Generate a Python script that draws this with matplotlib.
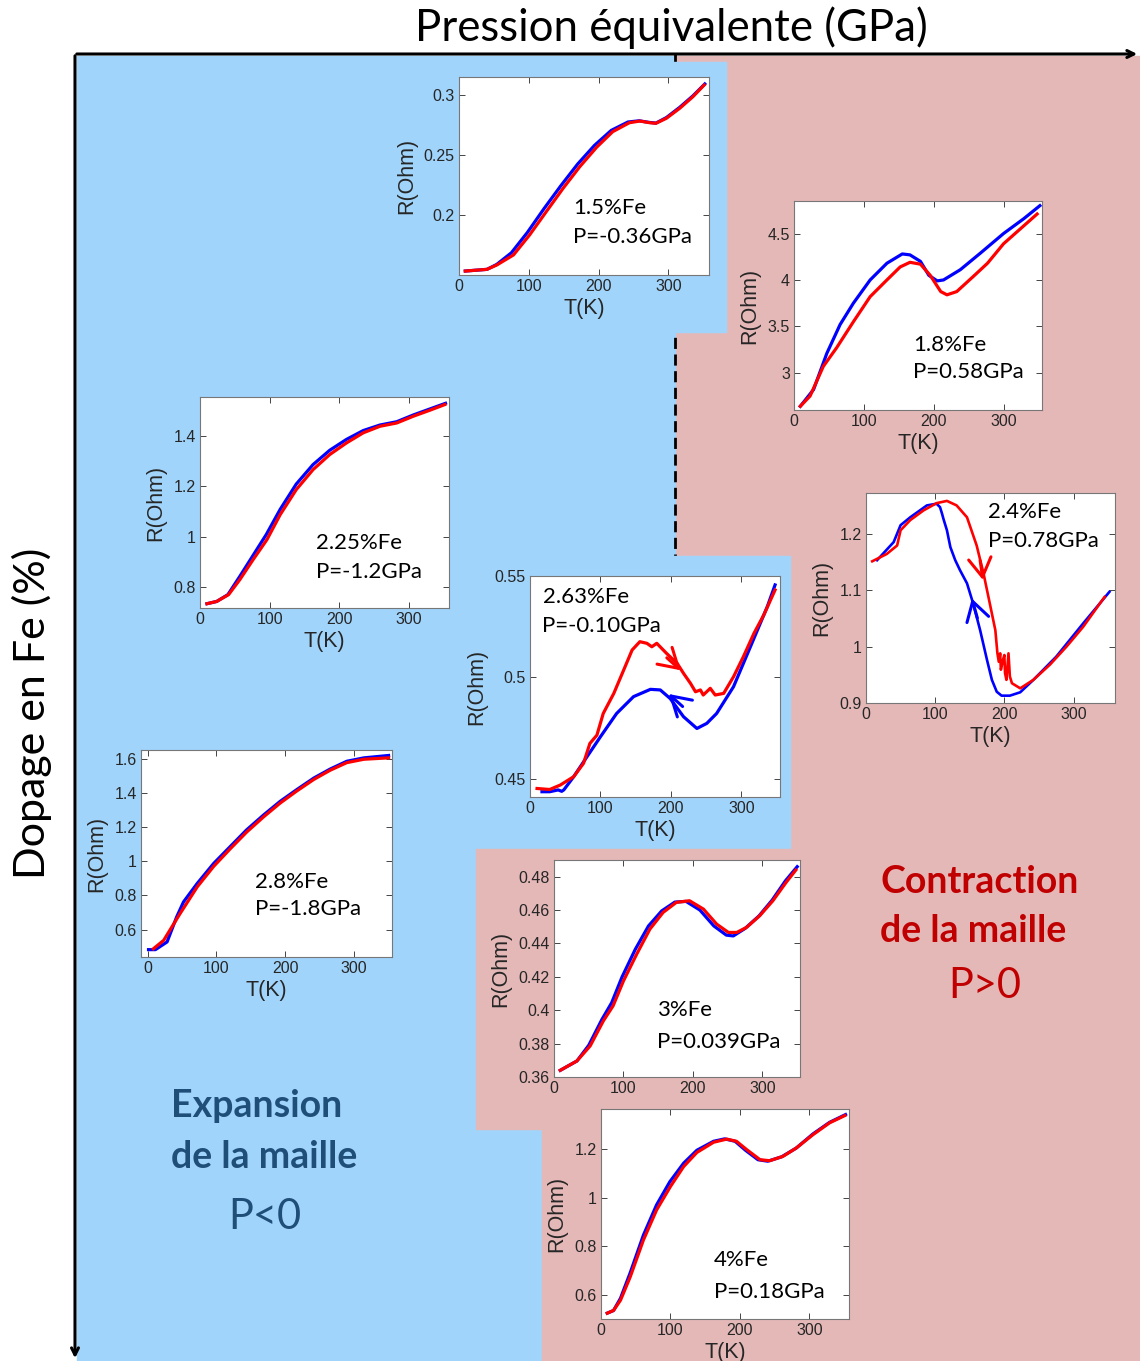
import matplotlib.pyplot as plt
from matplotlib.patches import Rectangle
from matplotlib.ticker import FixedLocator, FuncFormatter

W, H = 1140, 1361

# ---- data: T (K) and R (Ohm), blue = cooling, red = warming ----
# 1.5% Fe, P=-0.36 GPa
t15_b = [9, 40, 54, 75, 98, 122, 146, 170, 194, 218, 242, 258, 272, 282, 297, 316, 335, 352]
r15_b = [0.1533, 0.1547, 0.1588, 0.1685, 0.1855, 0.2055, 0.2245, 0.2425, 0.2580, 0.2705, 0.2775, 0.2785, 0.2772, 0.2766, 0.2812, 0.2897, 0.2993, 0.3092]
t15_r = [9, 40, 54, 78, 101, 125, 149, 173, 197, 220, 244, 259, 273, 282, 297, 316, 335, 351]
r15_r = [0.1533, 0.1547, 0.1583, 0.1667, 0.1833, 0.2028, 0.2222, 0.2403, 0.2564, 0.2694, 0.2769, 0.2783, 0.2769, 0.2764, 0.2806, 0.2889, 0.2986, 0.3083]

# 1.8% Fe, P=0.58 GPa
t18_b = [9, 28, 47, 66, 85, 109, 133, 155, 166, 181, 193, 205, 214, 238, 267, 300, 329, 352]
r18_b = [2.64, 2.82, 3.21, 3.52, 3.75, 4.00, 4.18, 4.28, 4.27, 4.20, 4.05, 3.99, 4.00, 4.11, 4.29, 4.50, 4.66, 4.80]
t18_r = [9, 23, 42, 61, 85, 109, 133, 152, 166, 181, 195, 210, 219, 233, 257, 277, 300, 324, 348]
r18_r = [2.64, 2.75, 3.07, 3.27, 3.55, 3.82, 4.00, 4.14, 4.19, 4.17, 4.05, 3.875, 3.84, 3.875, 4.04, 4.18, 4.39, 4.55, 4.71]

# 2.4% Fe, P=0.78 GPa
t24_b = [16, 40, 50, 64, 88, 102, 107, 110, 112, 117, 122, 129, 136, 146, 155, 165, 175, 182, 189, 196, 208, 223, 242, 275, 314, 352]
r24_b = [1.153, 1.185, 1.215, 1.229, 1.250, 1.253, 1.247, 1.235, 1.226, 1.206, 1.176, 1.153, 1.135, 1.112, 1.076, 1.029, 0.976, 0.941, 0.920, 0.913, 0.913, 0.919, 0.941, 0.982, 1.041, 1.097]
t24_r = [9, 30, 45, 50, 64, 83, 102, 117, 131, 146, 160, 170, 177, 187, 190, 192, 194, 195, 198, 200, 201, 203, 206, 208, 211, 215, 223, 242, 266, 290, 314, 345]
r24_r = [1.151, 1.164, 1.179, 1.206, 1.224, 1.241, 1.254, 1.258, 1.250, 1.229, 1.179, 1.129, 1.088, 1.029, 0.988, 0.973, 0.988, 0.959, 0.976, 0.985, 0.953, 0.941, 0.988, 0.947, 0.935, 0.932, 0.926, 0.941, 0.968, 1.000, 1.035, 1.088]

# 2.63% Fe, P=-0.10 GPa
t263_b = [17, 28, 40, 45, 48, 62, 81, 100, 123, 147, 171, 185, 199, 218, 237, 251, 265, 289, 313, 337, 348]
r263_b = [0.4436, 0.4436, 0.4445, 0.4438, 0.4445, 0.4510, 0.4609, 0.4707, 0.4822, 0.4905, 0.4941, 0.4938, 0.4896, 0.4806, 0.4748, 0.4773, 0.4822, 0.4954, 0.5151, 0.5349, 0.5456]
t263_r = [10, 28, 43, 62, 76, 85, 95, 104, 119, 133, 145, 156, 166, 173, 180, 194, 209, 218, 228, 235, 242, 246, 256, 263, 275, 289, 303, 318, 332, 348]
r263_r = [0.4452, 0.4447, 0.4469, 0.4510, 0.4576, 0.4674, 0.4715, 0.4822, 0.4921, 0.5036, 0.5135, 0.5176, 0.5168, 0.5151, 0.5168, 0.5118, 0.5069, 0.5020, 0.4970, 0.4929, 0.4938, 0.4913, 0.4946, 0.4913, 0.4921, 0.5003, 0.5102, 0.5217, 0.5308, 0.5431]

# 3% Fe, P=0.039 GPa
t3_b = [9, 33, 50, 69, 83, 98, 117, 136, 155, 174, 190, 210, 230, 248, 258, 275, 295, 314, 333, 350]
r3_b = [0.3640, 0.3696, 0.3790, 0.3945, 0.4045, 0.4200, 0.4365, 0.4505, 0.4595, 0.4648, 0.4652, 0.4600, 0.4505, 0.4450, 0.4445, 0.4490, 0.4565, 0.4660, 0.4775, 0.4860]
t3_r = [9, 33, 52, 71, 85, 100, 119, 138, 157, 176, 195, 215, 234, 251, 263, 277, 296, 315, 334, 348]
r3_r = [0.3640, 0.3696, 0.3786, 0.3936, 0.4026, 0.4176, 0.4336, 0.4486, 0.4586, 0.4646, 0.4656, 0.4606, 0.4516, 0.4466, 0.4466, 0.4496, 0.4566, 0.4656, 0.4766, 0.4840]

# 4% Fe, P=0.18 GPa
t4_b = [9, 18, 28, 42, 61, 80, 99, 119, 138, 162, 178, 193, 208, 226, 240, 260, 281, 305, 329, 352]
r4_b = [0.524, 0.535, 0.585, 0.690, 0.845, 0.970, 1.065, 1.142, 1.195, 1.232, 1.242, 1.232, 1.195, 1.156, 1.150, 1.168, 1.204, 1.262, 1.310, 1.342]
t4_r = [9, 18, 28, 42, 61, 80, 100, 119, 138, 162, 181, 195, 210, 229, 243, 262, 281, 305, 329, 351]
r4_r = [0.524, 0.535, 0.577, 0.673, 0.825, 0.949, 1.046, 1.128, 1.186, 1.228, 1.241, 1.232, 1.197, 1.156, 1.152, 1.170, 1.204, 1.259, 1.308, 1.338]

# 2.25% Fe, P=-1.2 GPa
t225_b = [10, 24, 40, 57, 76, 95, 115, 138, 162, 186, 210, 234, 258, 282, 306, 329, 352]
r225_b = [0.734, 0.743, 0.770, 0.842, 0.925, 1.008, 1.108, 1.208, 1.285, 1.342, 1.385, 1.420, 1.442, 1.455, 1.482, 1.505, 1.528]
t225_r = [10, 24, 41, 57, 76, 96, 115, 138, 162, 186, 210, 234, 258, 282, 306, 329, 351]
r225_r = [0.734, 0.743, 0.770, 0.829, 0.908, 0.988, 1.087, 1.186, 1.265, 1.325, 1.371, 1.411, 1.437, 1.450, 1.477, 1.500, 1.523]

# 2.8% Fe, P=-1.8 GPa
t28_b = [1, 11, 28, 42, 52, 72, 96, 120, 144, 169, 193, 217, 242, 266, 290, 315, 351]
r28_b = [0.483, 0.483, 0.528, 0.674, 0.762, 0.870, 0.987, 1.085, 1.183, 1.271, 1.350, 1.418, 1.486, 1.539, 1.584, 1.604, 1.618]
t28_r = [8, 23, 47, 72, 96, 120, 144, 169, 193, 217, 242, 266, 290, 315, 351]
r28_r = [0.488, 0.537, 0.694, 0.850, 0.970, 1.072, 1.170, 1.260, 1.340, 1.410, 1.478, 1.532, 1.576, 1.596, 1.604]

BLUE_BG = '#a1d4fb'
PINK_BG = '#e5b8b8'
TXT_FONT = ['Lato', 'DejaVu Sans']
TICK_FONT = ['Liberation Sans', 'DejaVu Sans']

fig = plt.figure(figsize=(W / 100, H / 100), dpi=100)
bg = fig.add_axes([0, 0, 1, 1])
bg.set_xlim(0, W)
bg.set_ylim(H, 0)
bg.axis('off')

# background regions
bg.add_patch(Rectangle((675, 56), W - 675, H - 56, color=PINK_BG, zorder=1))
bg.add_patch(Rectangle((77, 56), 675 - 77, H - 56, color=BLUE_BG, zorder=1))
bg.plot([675, 675], [54, 556], color='black', lw=2, ls=(0, (4, 2)), zorder=2)
bg.add_patch(Rectangle((600, 62), 726 - 600, 332 - 62, color=BLUE_BG, zorder=3))
bg.add_patch(Rectangle((600, 556), 790 - 600, 849 - 556, color=BLUE_BG, zorder=3))
bg.add_patch(Rectangle((476, 849), 820 - 476, 1129 - 849, color=PINK_BG, zorder=3))
bg.add_patch(Rectangle((542, 1128), W - 542, H - 1128, color=PINK_BG, zorder=3))

# main arrows
bg.annotate('', xy=(1140, 54), xytext=(74, 54),
            arrowprops=dict(arrowstyle='->,head_length=0.5,head_width=0.25', lw=2.2, color='black'), zorder=6)
bg.annotate('', xy=(75, 1361), xytext=(75, 53),
            arrowprops=dict(arrowstyle='->,head_length=0.5,head_width=0.25', lw=2.2, color='black'), zorder=6)

bg.text(671, 28, 'Pression équivalente (GPa)', ha='center', va='center', fontsize=31.5, family=TXT_FONT, zorder=6)
bg.text(32, 713, 'Dopage en Fe (%)', ha='center', va='center', rotation=90, fontsize=31, family=TXT_FONT, zorder=6)

dark_blue = '#1f4e79'
bg.text(171, 1117, 'Expansion', ha='left', va='baseline', fontsize=27, fontweight='bold', color=dark_blue, family=TXT_FONT, zorder=6)
bg.text(171, 1168, 'de la maille', ha='left', va='baseline', fontsize=27, fontweight='bold', color=dark_blue, family=TXT_FONT, zorder=6)
bg.text(265, 1229, 'P<0', ha='center', va='baseline', fontsize=30, color=dark_blue, family=TXT_FONT, zorder=6)

dark_red = '#c00000'
bg.text(880, 893, 'Contraction', ha='left', va='baseline', fontsize=27, fontweight='bold', color=dark_red, family=TXT_FONT, zorder=6)
bg.text(880, 942, 'de la maille', ha='left', va='baseline', fontsize=27, fontweight='bold', color=dark_red, family=TXT_FONT, zorder=6)
bg.text(985, 998, 'P>0', ha='center', va='baseline', fontsize=30, color=dark_red, family=TXT_FONT, zorder=6)


def fmt(v, pos):
    return f'{v:g}'


def inset(box, tb, rb, tr, rr, xlim, ylim, yticks, lines, tx, ty1, ty2, lw=2.3, xlabel=True):
    l, t, r, b = box
    ax = fig.add_axes([l / W, 1 - b / H, (r - l) / W, (b - t) / H])
    ax.set_facecolor('white')
    ax.plot(tb, rb, color='#0000ff', lw=lw)
    ax.plot(tr, rr, color='#ff0000', lw=lw)
    ax.set_xlim(*xlim)
    ax.set_ylim(*ylim)
    ax.xaxis.set_major_locator(FixedLocator([0, 100, 200, 300]))
    ax.yaxis.set_major_locator(FixedLocator(yticks))
    ax.xaxis.set_major_formatter(FuncFormatter(fmt))
    ax.yaxis.set_major_formatter(FuncFormatter(fmt))
    ax.tick_params(direction='in', top=True, right=True, length=4, width=0.7,
                   color='#444444', labelcolor='#262626', labelsize=11.5, pad=3)
    for lab in ax.get_xticklabels() + ax.get_yticklabels():
        lab.set_family(TICK_FONT)
    for s in ax.spines.values():
        s.set_color('#777777')
        s.set_linewidth(0.8)
    if xlabel:
        ax.set_xlabel('T(K)', fontsize=15.5, family=TICK_FONT, labelpad=3, color='#262626')
    ax.set_ylabel('R(Ohm)', fontsize=15.5, family=TICK_FONT, labelpad=5, color='#262626')
    ax.text(tx, ty1, lines[0], transform=ax.transAxes, ha='left', va='center', fontsize=16, family=TXT_FONT)
    ax.text(tx, ty2, lines[1], transform=ax.transAxes, ha='left', va='center', fontsize=16, family=TXT_FONT)
    return ax


inset((459, 77, 709, 275), t15_b, r15_b, t15_r, r15_r, (0, 358), (0.15, 0.315),
      [0.2, 0.25, 0.3], ('1.5%Fe', 'P=-0.36GPa'), 0.455, 0.338, 0.19)
inset((794, 201, 1042, 410), t18_b, r18_b, t18_r, r18_r, (0, 355), (2.6, 4.85),
      [3, 3.5, 4, 4.5], ('1.8%Fe', 'P=0.58GPa'), 0.48, 0.31, 0.18)
ax24 = inset((866, 493, 1115, 703), t24_b, r24_b, t24_r, r24_r, (0, 360), (0.9, 1.272),
             [0.9, 1, 1.1, 1.2], ('2.4%Fe', 'P=0.78GPa'), 0.49, 0.91, 0.77, lw=1.9)
ax263 = inset((530, 576, 780, 797), t263_b, r263_b, t263_r, r263_r, (0, 355), (0.441, 0.55),
              [0.45, 0.5, 0.55], ('2.63%Fe', 'P=-0.10GPa'), 0.05, 0.905, 0.774)
inset((554, 860, 800, 1077), t3_b, r3_b, t3_r, r3_r, (0, 354), (0.36, 0.49),
      [0.36, 0.38, 0.4, 0.42, 0.44, 0.46, 0.48], ('3%Fe', 'P=0.039GPa'), 0.42, 0.31, 0.16, xlabel=False)
inset((601, 1109, 849, 1319), t4_b, r4_b, t4_r, r4_r, (0, 357), (0.5, 1.365),
      [0.6, 0.8, 1, 1.2], ('4%Fe', 'P=0.18GPa'), 0.455, 0.28, 0.13)
inset((200, 397, 449, 608), t225_b, r225_b, t225_r, r225_r, (0, 357), (0.717, 1.553),
      [0.8, 1, 1.2, 1.4], ('2.25%Fe', 'P=-1.2GPa'), 0.466, 0.31, 0.17)
inset((141, 750, 392, 957), t28_b, r28_b, t28_r, r28_r, (-10, 356), (0.44, 1.65),
      [0.6, 0.8, 1, 1.2, 1.4, 1.6], ('2.8%Fe', 'P=-1.8GPa'), 0.454, 0.363, 0.23)

# hysteresis direction arrows (chevrons sitting on the curves)
head = dict(arrowstyle='->,head_length=0.75,head_width=0.45', lw=2.2, mutation_scale=18,
            shrinkA=0, shrinkB=0)
ax24.annotate('', xy=(169, 1.118), xytext=(-2, 14), textcoords='offset points',
              arrowprops=dict(color='#ff0000', **head))
ax24.annotate('', xy=(153, 1.085), xytext=(4, -14), textcoords='offset points',
              arrowprops=dict(color='#0000ff', **head))
ax263.annotate('', xy=(214, 0.5035), xytext=(-10, 9), textcoords='offset points',
               arrowprops=dict(color='#ff0000', **head))
ax263.annotate('', xy=(197, 0.4918), xytext=(10, -9), textcoords='offset points',
               arrowprops=dict(color='#0000ff', **head))

fig.savefig('out.png', dpi=100)
